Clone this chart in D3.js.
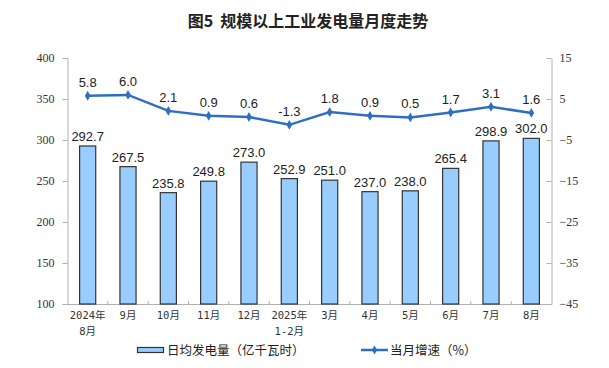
<!DOCTYPE html>
<html><head><meta charset="utf-8">
<script src="https://cdn.jsdelivr.net/npm/d3@7"></script>
<style>body{margin:0;background:#fff;} svg{display:block;}</style>
</head><body>
<svg id="c" width="609" height="368"></svg>
<script>
const categories = [["2024年","8月"],["9月"],["10月"],["11月"],["12月"],["2025年","1-2月"],["3月"],["4月"],["5月"],["6月"],["7月"],["8月"]];
const dailyOutput = [292.7,267.5,235.8,249.8,273.0,252.9,251.0,237.0,238.0,265.4,298.9,302.0];
const growth = [5.8,6.0,2.1,0.9,0.6,-1.3,1.8,0.9,0.5,1.7,3.1,1.6];
const leftTicks = [100,150,200,250,300,350,400];
const rightTicks = [-45,-35,-25,-15,-5,5,15];

const svg = d3.select("#c");
const L = 67.5, R = 551.5, T = 58, B = 304;
const cjk = "'Liberation Sans','Noto Sans CJK SC',sans-serif";
const serif = "'Liberation Serif','Noto Sans CJK SC',serif";
const axisCol = "#b0b0b0";

const x = d3.scaleBand().domain(d3.range(categories.length)).range([L, R]).paddingInner(0.6).paddingOuter(0.3);
const xb = d3.scaleBand().domain(d3.range(categories.length)).range([L, R]);
const yL = d3.scaleLinear().domain([100,400]).range([B, T]);
const yR = d3.scaleLinear().domain([-45,15]).range([B, T]);

// title
svg.append("text").attr("x", 308).attr("y", 27).attr("text-anchor","middle")
  .attr("font-family","'Noto Sans CJK SC',sans-serif").attr("font-size",16).attr("font-weight",600)
  .attr("fill","#222").attr("xml:space","preserve").text("图5  规模以上工业发电量月度走势");

// left axis
const gL = svg.append("g").attr("transform",`translate(${L},0)`)
  .call(d3.axisLeft(yL).tickValues(leftTicks).tickSize(5).tickPadding(8));
gL.select(".domain").attr("stroke",axisCol);
gL.selectAll(".tick line").attr("stroke",axisCol);
gL.selectAll("text").attr("font-family",serif).attr("font-size",12).attr("fill","#333");

// right axis (ticks point inward/left)
const gR = svg.append("g").attr("transform",`translate(${R},0)`)
  .call(d3.axisRight(yR).tickValues(rightTicks).tickSize(0).tickPadding(8));
gR.select(".domain").attr("stroke",axisCol);
gR.selectAll(".tick").append("line").attr("x1",-5).attr("x2",0).attr("stroke",axisCol);
gR.selectAll("text").attr("font-family",serif).attr("font-size",12).attr("fill","#333");

// x axis line
svg.append("line").attr("x1",L).attr("x2",R).attr("y1",B+0.5).attr("y2",B+0.5).attr("stroke",axisCol);
svg.selectAll(".xt").data(d3.range(1,categories.length)).enter().append("line")
  .attr("x1",d=>xb(d)).attr("x2",d=>xb(d)).attr("y1",B-3).attr("y2",B).attr("stroke",axisCol);

// x labels
const xl = svg.selectAll(".xl").data(categories).enter().append("text")
  .attr("text-anchor","middle").attr("font-family","'DejaVu Sans Mono','Noto Sans CJK SC',monospace")
  .attr("font-size",10.5).attr("fill","#333");
xl.each(function(d,i){
  const t = d3.select(this);
  d.forEach((s,j)=>t.append("tspan").attr("x", xb(i)+xb.bandwidth()/2).attr("y", 319 + j*16).text(s));
});

// bars
svg.selectAll(".bar").data(dailyOutput).enter().append("rect")
  .attr("x",(d,i)=>x(i)).attr("width",x.bandwidth())
  .attr("y",d=>yL(d)).attr("height",d=>B-yL(d))
  .attr("fill","#99ccff").attr("stroke","#333").attr("stroke-width",1.2);
svg.selectAll(".bl").data(dailyOutput).enter().append("text")
  .attr("x",(d,i)=>x(i)+x.bandwidth()/2).attr("y",d=>yL(d)-5)
  .attr("text-anchor","middle").attr("font-family",cjk).attr("font-size",13).attr("fill","#222")
  .text(d=>d.toFixed(1));

// line
const cx = i => xb(i)+xb.bandwidth()/2;
svg.append("path").datum(growth)
  .attr("d", d3.line().x((d,i)=>cx(i)).y(d=>yR(d)))
  .attr("fill","none").attr("stroke","#2f6fc2").attr("stroke-width",2.5);
svg.selectAll(".pt").data(growth).enter().append("path")
  .attr("d", d3.symbol().type(d3.symbolDiamond).size(28))
  .attr("transform",(d,i)=>`translate(${cx(i)},${yR(d)})`).attr("fill","#2f6fc2");
svg.selectAll(".gl").data(growth).enter().append("text")
  .attr("x",(d,i)=>cx(i)).attr("y",d=>yR(d)-9)
  .attr("text-anchor","middle").attr("font-family",cjk).attr("font-size",13).attr("fill","#222")
  .text(d=>d.toFixed(1));

// legend
svg.append("rect").attr("x",137.5).attr("y",347.5).attr("width",26).attr("height",5)
  .attr("fill","#99ccff").attr("stroke","#333").attr("stroke-width",1.2);
svg.append("text").attr("x",167).attr("y",354.5).attr("font-family","'Noto Sans CJK SC',sans-serif")
  .attr("font-size",12.5).attr("fill","#222").text("日均发电量（亿千瓦时）");
svg.append("line").attr("x1",361).attr("x2",388).attr("y1",350).attr("y2",350)
  .attr("stroke","#2f6fc2").attr("stroke-width",2.5);
svg.append("path").attr("d", d3.symbol().type(d3.symbolDiamond).size(24))
  .attr("transform","translate(374.5,350)").attr("fill","#2f6fc2");
svg.append("text").attr("x",390).attr("y",354.5).attr("font-family","'Noto Sans CJK SC',sans-serif")
  .attr("font-size",12.5).attr("fill","#222").text("当月增速（%）");
</script>
</body></html>
